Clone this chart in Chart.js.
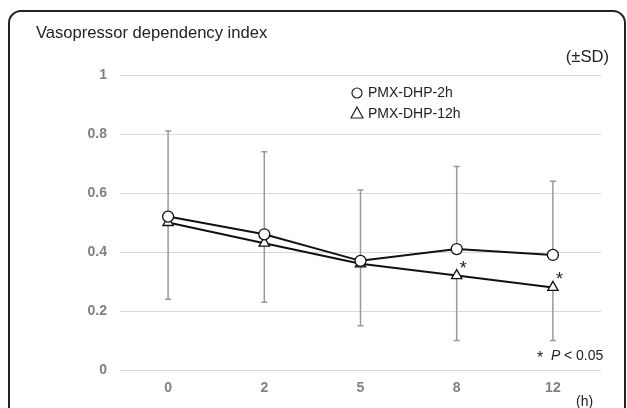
<!DOCTYPE html>
<html>
<head>
<meta charset="utf-8">
<script src="https://cdn.jsdelivr.net/npm/chart.js"></script>
<style>
  body { margin: 0; background: #fff; }
  #wrap { width: 627px; height: 408px; }
</style>
</head>
<body>
<div id="wrap"><canvas id="vdiChart"></canvas></div>
<script>
const hours = ["0", "2", "5", "8", "12"];
const mean2h = [0.52, 0.46, 0.37, 0.41, 0.39];
const sd2h = [0.29, 0.28, 0.24, 0.28, 0.25];
const mean12h = [0.50, 0.43, 0.36, 0.32, 0.28];
const sd12h = [0.26, 0.20, 0.21, 0.22, 0.18];
const significant12h = [false, false, false, true, true];

const FONT = "'Liberation Sans', Arial, sans-serif";

// error bars: 2h goes up, 12h goes down
const errorBars = {
  id: "errorBars",
  beforeDatasetsDraw(chart) {
    const { ctx, scales: { x, y } } = chart;
    ctx.save();
    ctx.strokeStyle = "#999";
    ctx.lineWidth = 1.5;
    hours.forEach((h, i) => {
      const px = x.getPixelForValue(i);
      const bars = [
        [mean2h[i], mean2h[i] + sd2h[i]],
        [mean12h[i], mean12h[i] - sd12h[i]]
      ];
      bars.forEach(([from, to]) => {
        const y0 = y.getPixelForValue(from);
        const y1 = y.getPixelForValue(to);
        ctx.beginPath();
        ctx.moveTo(px, y0);
        ctx.lineTo(px, y1);
        ctx.moveTo(px - 3, y1);
        ctx.lineTo(px + 3, y1);
        ctx.stroke();
      });
    });
    ctx.restore();
  }
};

// frame, titles, legend and the significance marks
const decorations = {
  id: "decorations",
  afterDraw(chart) {
    const { ctx, scales: { x, y } } = chart;
    ctx.save();

    // rounded frame, cut off at the bottom
    ctx.strokeStyle = "#222";
    ctx.lineWidth = 2;
    const r = 12;
    ctx.beginPath();
    ctx.moveTo(9, 420);
    ctx.lineTo(9, 11 + r);
    ctx.arcTo(9, 11, 9 + r, 11, r);
    ctx.lineTo(625 - r, 11);
    ctx.arcTo(625, 11, 625, 11 + r, r);
    ctx.lineTo(625, 420);
    ctx.stroke();

    ctx.fillStyle = "#222";
    ctx.textBaseline = "middle";
    ctx.font = "16.6px " + FONT;
    ctx.textAlign = "left";
    ctx.fillText("Vasopressor dependency index", 36, 33);
    ctx.textAlign = "right";
    ctx.fillText("(±SD)", 609, 57);

    // legend
    ctx.font = "14px " + FONT;
    ctx.textAlign = "left";
    ctx.lineWidth = 1.2;
    ctx.beginPath();
    ctx.arc(357, 93, 5, 0, Math.PI * 2);
    ctx.stroke();
    ctx.fillText("PMX-DHP-2h", 368, 93);
    ctx.beginPath();
    ctx.moveTo(357, 107);
    ctx.lineTo(363, 118);
    ctx.lineTo(351, 118);
    ctx.closePath();
    ctx.stroke();
    ctx.fillText("PMX-DHP-12h", 368, 114);

    // stars next to the 12h triangles
    ctx.font = "18px " + FONT;
    significant12h.forEach((s, i) => {
      if (!s) return;
      ctx.fillText("*", x.getPixelForValue(i) + 3, y.getPixelForValue(mean12h[i]) - 7);
    });

    // footnote
    ctx.font = "16px " + FONT;
    ctx.fillText("*", 537, 359);
    ctx.font = "italic 14px " + FONT;
    ctx.fillText("P", 551, 356);
    ctx.font = "14px " + FONT;
    ctx.fillText("< 0.05", 564, 356);

    ctx.fillText("(h)", 576, 402);
    ctx.restore();
  }
};

new Chart(document.getElementById("vdiChart"), {
  type: "line",
  data: {
    labels: hours,
    datasets: [
      {
        label: "PMX-DHP-2h",
        data: mean2h,
        borderColor: "#111",
        borderWidth: 2,
        pointStyle: "circle",
        pointRadius: 5.5,
        pointBackgroundColor: "#fff",
        pointBorderColor: "#111",
        pointBorderWidth: 1.3
      },
      {
        label: "PMX-DHP-12h",
        data: mean12h,
        borderColor: "#111",
        borderWidth: 2,
        pointStyle: "triangle",
        pointRadius: 6,
        pointBackgroundColor: "#fff",
        pointBorderColor: "#111",
        pointBorderWidth: 1.3
      }
    ]
  },
  options: {
    responsive: true,
    maintainAspectRatio: false,
    animation: false,
    layout: { padding: { top: 75, right: 26, bottom: 0, left: 0 } },
    plugins: {
      legend: { display: false },
      tooltip: { enabled: false }
    },
    scales: {
      x: {
        offset: true,
        grid: { display: false, drawTicks: false },
        border: { display: false },
        ticks: {
          padding: 10,
          color: "#808080",
          font: { family: FONT, size: 14, weight: "bold" }
        },
        afterFit(scale) { scale.height = 38; }
      },
      y: {
        min: 0,
        max: 1,
        grid: { color: "#d9d9d9", lineWidth: 1, drawTicks: false },
        border: { display: false },
        ticks: {
          stepSize: 0.2,
          padding: 13,
          color: "#808080",
          font: { family: FONT, size: 14, weight: "bold" },
          callback: (v) => String(Number(v.toFixed(1)))
        },
        afterFit(scale) { scale.width = 120; }
      }
    }
  },
  plugins: [errorBars, decorations]
});
</script>
</body>
</html>
